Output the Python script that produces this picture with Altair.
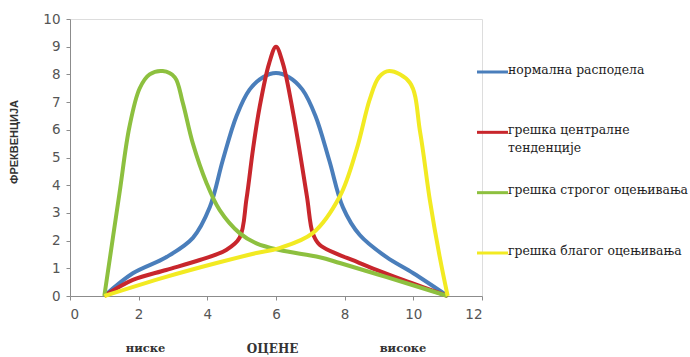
import altair as alt
import pandas as pd

# --- data ---
series_names = ["нормална расподела", "грешка централне тенденције",
                "грешка строгог оцењивања", "грешка благог оцењивања"]
series_colors = ["#4A7EBB", "#C8262C", "#8DC03F", "#F2EA22"]

normal_x = [1, 1.83, 2.8, 3.58, 4.07, 4.45, 4.85, 5.23, 5.62, 6.0, 6.38, 6.77, 7.15, 7.55, 7.95, 8.44, 9.22, 10.0, 11]
normal_y = [0, 0.82, 1.4, 2.1, 3.2, 4.9, 6.5, 7.45, 7.9, 8.05, 7.9, 7.45, 6.5, 4.9, 3.2, 2.2, 1.4, 0.82, 0]

central_x = [1, 1.83, 2.8, 3.78, 4.55, 4.94, 5.14, 5.33, 5.52, 5.8, 6.0, 6.2, 6.5, 6.9, 7.07, 7.27, 8.44, 9.7, 11]
central_y = [0, 0.58, 0.94, 1.3, 1.66, 2.1, 3.5, 5.3, 6.8, 8.4, 9.0, 8.4, 6.6, 3.6, 2.27, 1.85, 1.19, 0.58, 0]

strict_x = [1, 1.44, 1.73, 2.03, 2.32, 2.7, 3.05, 3.28, 3.58, 3.97, 4.36, 4.94, 5.43, 6.1, 7.27, 7.86, 9.2, 11]
strict_y = [0, 3.7, 6.1, 7.5, 8.0, 8.12, 7.9, 7.0, 5.5, 4.1, 3.1, 2.27, 1.9, 1.66, 1.4, 1.19, 0.69, 0]

lenient_x = [1, 2.8, 4.27, 5.43, 6.1, 7.07, 7.86, 8.35, 8.73, 9.0, 9.3, 9.9, 10.2, 10.48, 10.77, 11]
lenient_y = [0, 0.69, 1.19, 1.55, 1.73, 2.27, 3.6, 5.3, 7.1, 7.9, 8.12, 7.7, 5.9, 3.47, 1.4, 0]

bottom_labels = ["ниске", "ОЦЕНЕ", "високе"]
bottom_label_x = [2.2, 5.9, 9.7]

W, H = 412, 277
SERIF = "DejaVu Serif"

rows = []
for name, xs, ys in zip(series_names,
                        [normal_x, central_x, strict_x, lenient_x],
                        [normal_y, central_y, strict_y, lenient_y]):
    for i, (xv, yv) in enumerate(zip(xs, ys)):
        rows.append({"series": name, "x": xv, "y": yv, "order": i})
df = pd.DataFrame(rows)

color_scale = alt.Scale(domain=series_names, range=series_colors)

lines = alt.Chart(df).mark_line(strokeWidth=4, interpolate="catmull-rom").encode(
    x=alt.X("x:Q", scale=alt.Scale(domain=[0, 12]),
            axis=alt.Axis(values=[0, 2, 4, 6, 8, 10, 12], grid=False, title=None,
                          domainColor="#8c8c8c", tickColor="#8c8c8c", tickSize=4,
                          labelFont="DejaVu Sans", labelFontSize=13.5, labelColor="#555555",
                          labelPadding=7)),
    y=alt.Y("y:Q", scale=alt.Scale(domain=[0, 10]),
            axis=alt.Axis(values=list(range(11)), grid=False,
                          title="ФРЕКВЕНЦИЈА", titleFont="Liberation Sans",
                          titleFontWeight="bold", titleFontSize=11, titleColor="#333333",
                          titleX=-51, titleY=H / 2 - 16,
                          domainColor="#8c8c8c", tickColor="#8c8c8c", tickSize=4,
                          labelFont="DejaVu Sans", labelFontSize=13.5, labelColor="#555555",
                          labelPadding=6)),
    color=alt.Color("series:N", scale=color_scale, legend=None),
    order="order:Q",
    detail="series:N",
)

# bottom category labels
bdf = pd.DataFrame({"label": bottom_labels, "x": bottom_label_x,
                    "size": [11.5, 12, 11.5]})
btext = alt.Chart(bdf).mark_text(font=SERIF, fontWeight="bold",
                                 color="#333333", baseline="middle").encode(
    x="x:Q",
    y=alt.value(H + 53),
    text="label:N",
    size=alt.Size("size:Q", scale=None, legend=None),
)

# manual legend
ldf = pd.DataFrame({
    "series": series_names,
    "idx": list(range(len(series_names))),
    "text": [n.replace("централне ", "централне|") for n in series_names],
})

leg_base = alt.Chart(ldf)
leg_y = alt.Y("idx:Q", scale=alt.Scale(domain=[0, 3], range=[53, 234]), axis=None)
leg_rule = leg_base.mark_rule(strokeWidth=3).encode(
    y=leg_y,
    x=alt.value(W - 5),
    x2=alt.value(W + 26),
    color=alt.Color("series:N", scale=color_scale, legend=None),
)
leg_text = leg_base.mark_text(align="left", baseline="top", font=SERIF,
                              fontWeight="normal", fontSize=12.4, color="#222222",
                              lineBreak="|", lineHeight=18, dy=-8.5).encode(
    y=leg_y,
    x=alt.value(W + 26),
    text="text:N",
)

chart = alt.layer(lines, btext, leg_rule, leg_text).resolve_scale(
    y="independent"
).properties(
    width=W, height=H,
    padding={"left": 70, "top": 19, "right": 208, "bottom": 61},
    autosize=alt.AutoSizeParams(type="none"),
).configure_view(stroke=None).configure(background="white")

chart.save("out.html", embed_options={"renderer": "svg", "actions": False})
